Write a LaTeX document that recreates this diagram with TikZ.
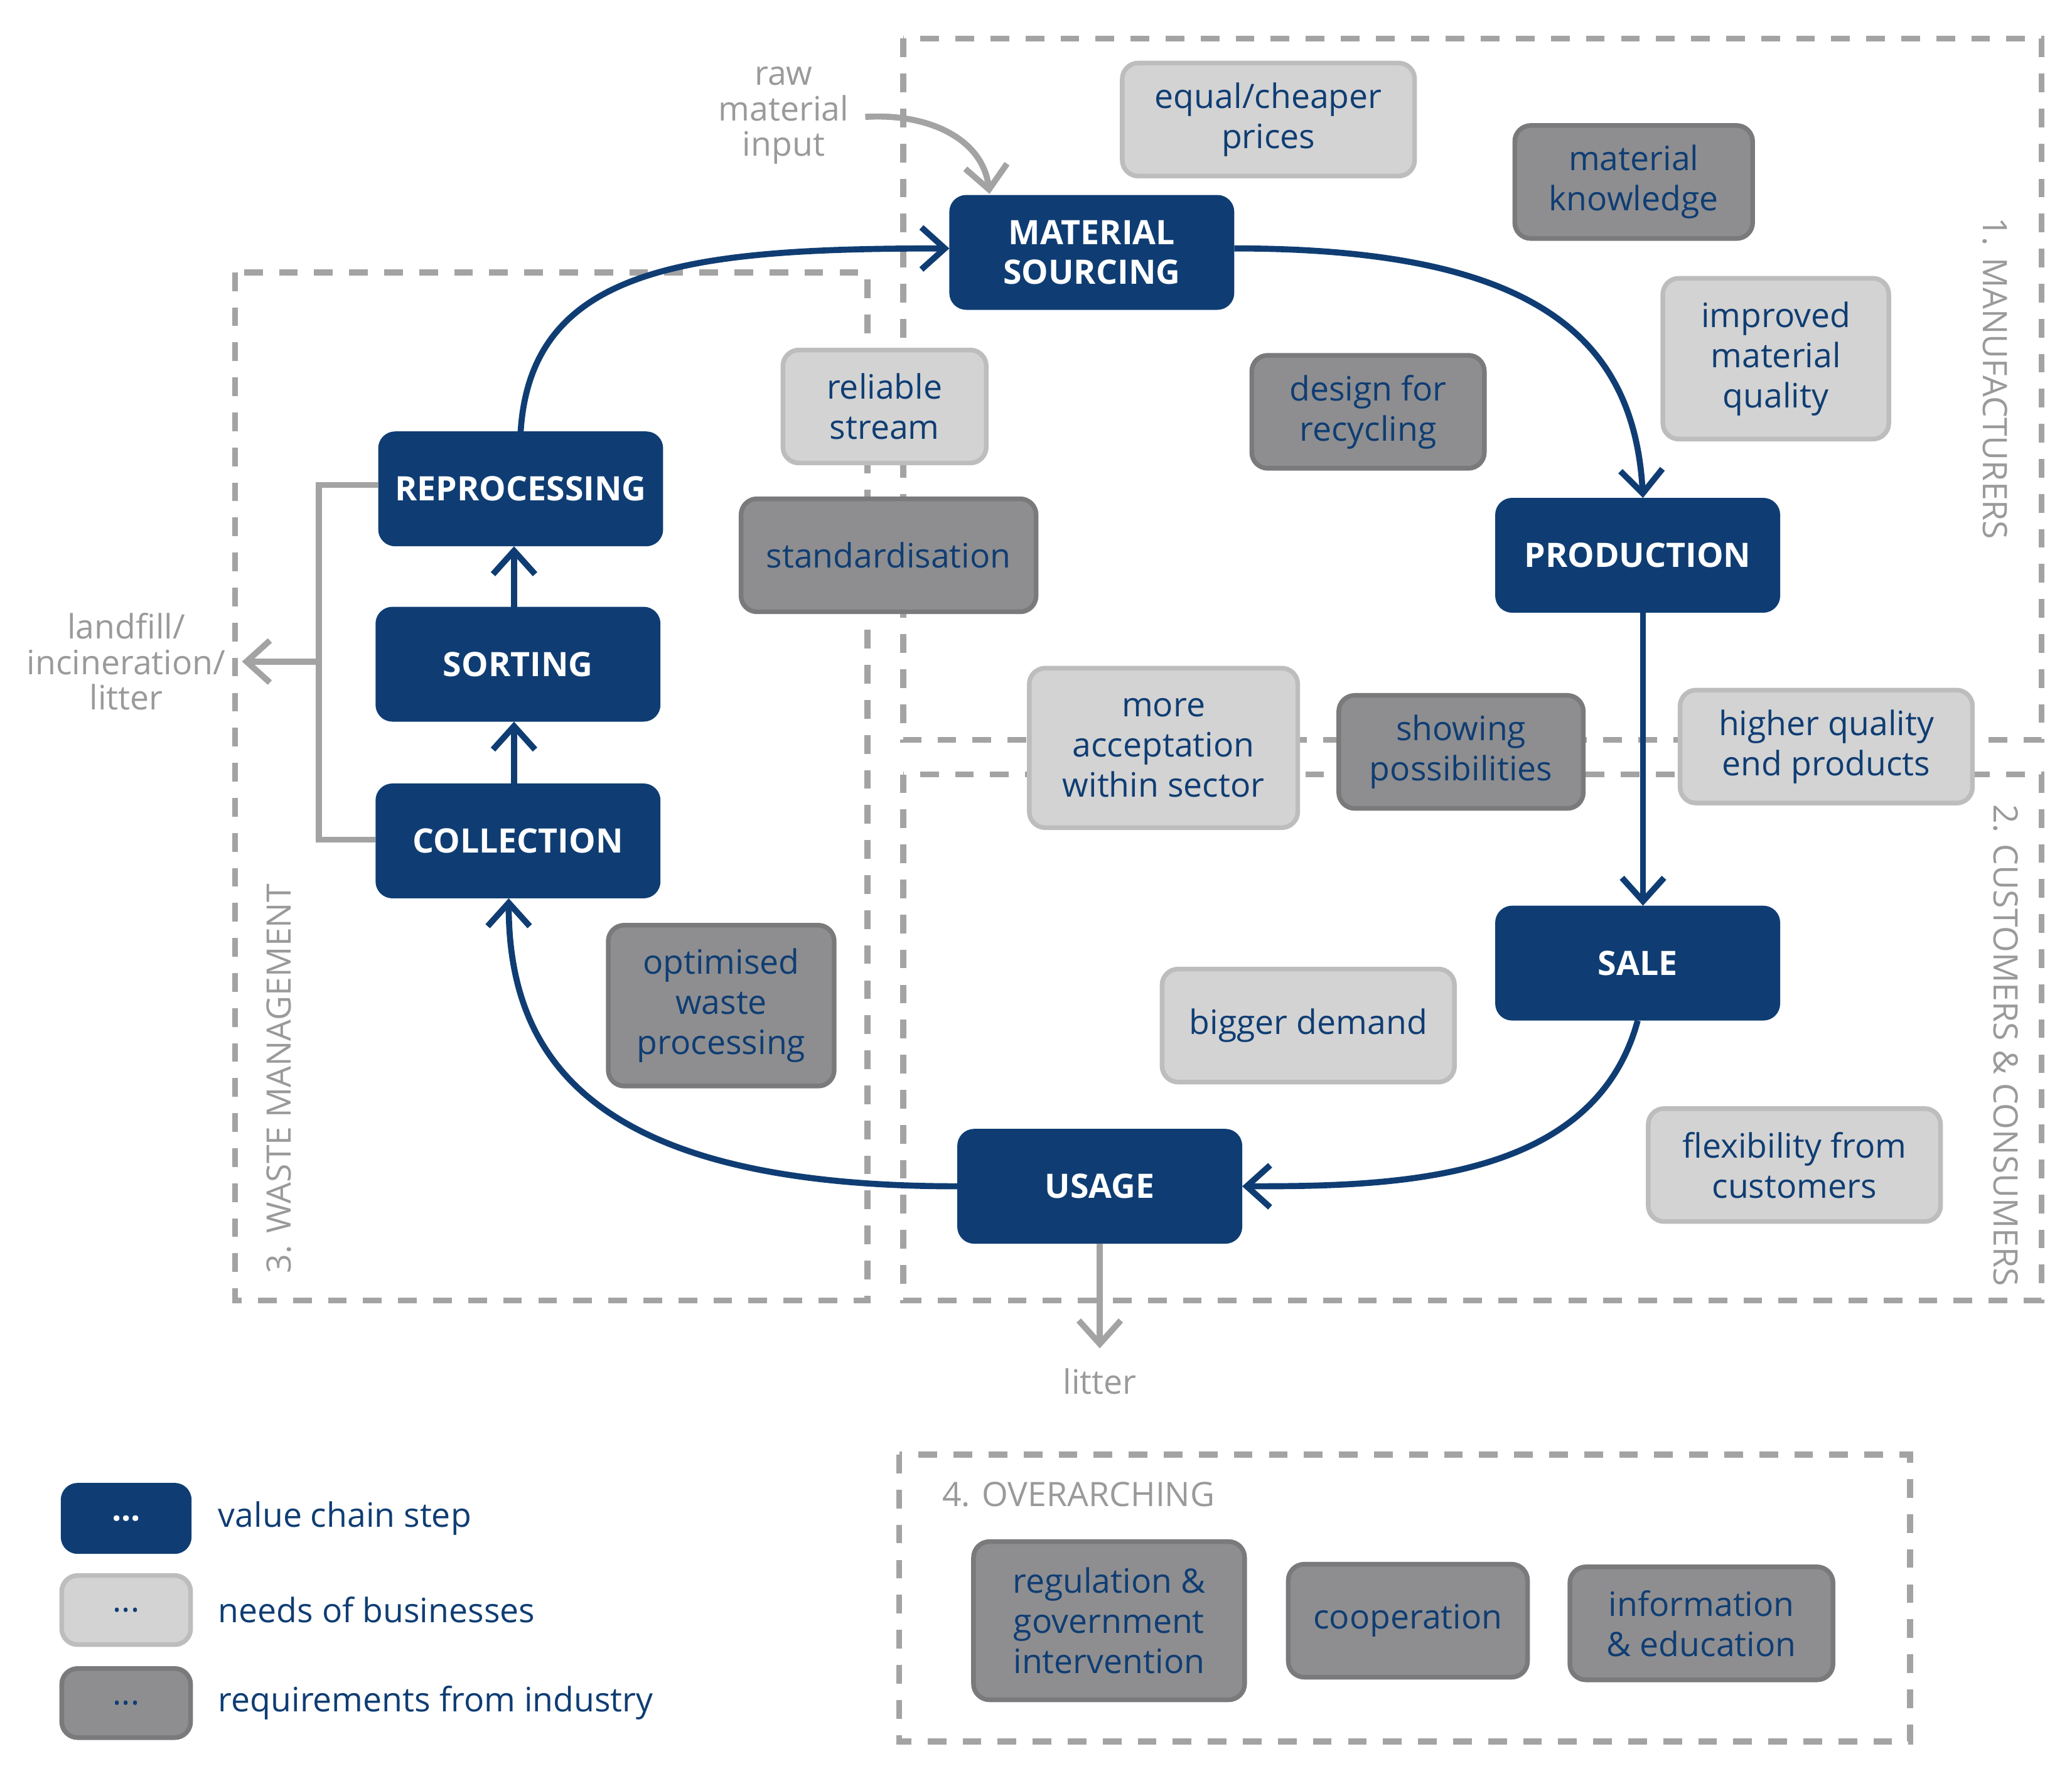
\documentclass[tikz,border=0pt]{standalone}
\usepackage{fontspec}
\setmainfont{Open Sans}
\usetikzlibrary{arrows.meta}
\definecolor{navy}{HTML}{0F3D73}
\definecolor{lgf}{HTML}{D3D3D3}
\definecolor{lgb}{HTML}{BDBDBD}
\definecolor{dgf}{HTML}{8E8E90}
\definecolor{dgb}{HTML}{7A7A7C}
\definecolor{frame}{HTML}{A3A3A3}
\definecolor{gtxt}{HTML}{9A9A9A}
\begin{document}
\begin{tikzpicture}[x=0.01cm,y=-0.01cm,
  every node/.style={font=\fontsize{7.2}{8.6}\selectfont, align=center},
  vstep/.style={fill=navy, draw=navy, rounded corners=0.12cm, text=white, font=\fontsize{7.2}{8.6}\selectfont\bfseries, minimum width=2.13cm, minimum height=0.85cm, inner sep=1pt},
  need/.style={fill=lgf, draw=lgb, line width=1pt, rounded corners=0.12cm, text=navy, minimum height=0.85cm, inner sep=1pt},
  req/.style={fill=dgf, draw=dgb, line width=1pt, rounded corners=0.12cm, text=navy, minimum height=0.85cm, inner sep=1pt},
  fr/.style={draw=frame, line width=1.3pt, dash pattern=on 4pt off 3.5pt},
  flow/.style={draw=navy, line width=1.3pt, -{Straight Barb[length=5pt,width=9pt,line width=1.3pt]}},
  gflow/.style={draw=frame, line width=1.3pt, -{Straight Barb[length=5pt,width=9pt,line width=1.3pt]}},
  lbl/.style={text=gtxt, font=\fontsize{7.2}{7.6}\selectfont}]
\useasboundingbox (0,0) rectangle (1560,1333);
% frames
\draw[fr] (680,29) rectangle (1537,557);
\draw[fr] (680,583) rectangle (1537,979);
\draw[fr] (177,205) rectangle (653,979);
\draw[fr] (677,1095) rectangle (1438,1311);
\node[lbl, rotate=-90] at (1502,285) {1. MANUFACTURERS};
\node[lbl, rotate=-90] at (1510,787) {2. CUSTOMERS \& CONSUMERS};
\node[lbl, rotate=90] at (210,812) {3. WASTE MANAGEMENT};
\node[lbl, anchor=west] at (697,1125) {4. OVERARCHING};
% needs / requirements
\node[need, minimum width=2.20cm] (eq) at (955,90) {equal/cheaper\\prices};
\node[req, minimum width=1.79cm] (mk) at (1230,137) {material\\knowledge};
\node[need, minimum width=1.70cm, minimum height=1.21cm] (im) at (1337,270) {improved\\material\\quality};
\node[req, minimum width=1.75cm] (dr) at (1030,310) {design for\\recycling};
\node[need, minimum width=1.53cm] (rs) at (666,306) {reliable\\stream};
\node[req, minimum width=2.22cm] (st) at (669,418) {standardisation};
\node[need, minimum width=2.02cm, minimum height=1.20cm] (ma) at (876,563) {more\\acceptation\\within sector};
\node[req, minimum width=1.84cm] (sp) at (1100,566) {showing\\possibilities};
\node[need, minimum width=2.20cm] (hq) at (1375,562) {higher quality\\end products};
\node[need, minimum width=2.20cm] (bd) at (985,772) {bigger demand};
\node[need, minimum width=2.20cm] (fc) at (1351,877) {flexibility from\\customers};
\node[req, minimum width=1.70cm, minimum height=1.21cm] (ow) at (543,757) {optimised\\waste\\processing};
\node[req, minimum width=2.04cm, minimum height=1.19cm] (rg) at (835,1220) {regulation \&\\government\\intervention};
\node[req, minimum width=1.80cm] (co) at (1060,1220) {cooperation};
\node[req, minimum width=1.98cm] (ie) at (1281,1222) {information\\\& education};
% steps
\node[vstep] (ms) at (822,190) {MATERIAL\\SOURCING};
\node[vstep] (pr) at (1233,418) {PRODUCTION};
\node[vstep] (sa) at (1233,725) {SALE};
\node[vstep] (us) at (828,893) {USAGE};
\node[vstep] (cl) at (390,633) {COLLECTION};
\node[vstep] (so) at (390,500) {SORTING};
\node[vstep] (rp) at (392,368) {REPROCESSING};
% flows
\draw[flow] (rp.north) .. controls (400,200) and (520,187) .. (ms.west |- 0,187);
\draw[flow] (ms.east |- 0,187) .. controls (1150,187) and (1230,250) .. (pr.north -| 1237,0);
\draw[flow] (pr.south -| 1237,0) -- (sa.north -| 1237,0);
\draw[flow] (sa.south) .. controls (1200,890) and (1050,893) .. (us.east);
\draw[flow] (us.west) .. controls (450,893) and (383,800) .. (cl.south -| 383,0);
\draw[flow] (cl.north -| 387,0) -- (so.south -| 387,0);
\draw[flow] (so.north -| 387,0) -- (rp.south -| 387,0);
% gray
\node[lbl] (raw) at (590,87) {raw\\material\\input};
\draw[gflow] (raw.east |- 0,88) .. controls (700,85) and (740,105) .. (745,146);
\coordinate (lt) at (828,1015);
\draw[gflow] (us.south) -- (lt);
\node[lbl] (litter) at (828,1040) {litter};
\coordinate (b1) at (240,365);
\coordinate (b2) at (240,632);
\coordinate (b3) at (240,498);
\node[lbl] (lf) at (95,498) {landfill/\\incineration/\\litter};
\draw[frame, line width=1.3pt] (rp.west |- 0,365) -- (b1) -- (b2) -- (cl.west |- 0,632);
\draw[gflow] (b3) -- (lf.east |- 0,498);
% legend
\node[vstep, minimum width=0.97cm, minimum height=0.52cm] (l1) at (95,1143) {...};
\node[need, minimum width=0.97cm, minimum height=0.52cm] (l2) at (95,1212) {...};
\node[req, minimum width=0.97cm, minimum height=0.52cm] (l3) at (95,1282) {...};
\node[anchor=west, text=navy] at (152,1143) {value chain step};
\node[anchor=west, text=navy] at (152,1212) {needs of businesses};
\node[anchor=west, text=navy] at (152,1282) {requirements from industry};
\end{tikzpicture}
\end{document}
